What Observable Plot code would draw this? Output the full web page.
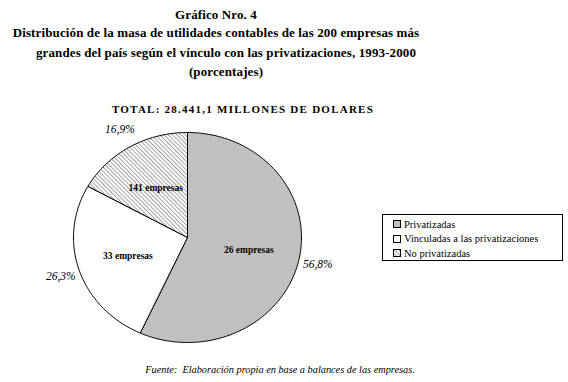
<!DOCTYPE html>
<html><head><meta charset="utf-8">
<script src="https://cdn.jsdelivr.net/npm/d3@7"></script>
<script src="https://cdn.jsdelivr.net/npm/@observablehq/plot@0.6"></script>
<style>
body{margin:0;background:#fff;font-family:"Liberation Serif","DejaVu Serif",serif;color:#000}
#wrap{position:relative;width:568px;height:382px;overflow:hidden;background:#fff}
.t{position:absolute;white-space:nowrap;font-weight:bold;font-size:13px;letter-spacing:0.12px;transform:translateX(-50%);line-height:1}
#total{position:absolute;left:243px;top:104px;transform:translateX(-50%);white-space:nowrap;font-weight:bold;font-size:11px;letter-spacing:1.25px;line-height:1}
#chart{position:absolute;left:0;top:120px}
#legend{position:absolute;left:382px;top:214px;width:181px;height:47px;border:1px solid #000;box-sizing:border-box;font-family:"Liberation Serif",serif;font-size:10.5px;padding:2px 0 0 10px}
#legend .row{height:14.5px;display:flex;align-items:center;white-space:nowrap}
#source{position:absolute;left:280px;top:365px;transform:translateX(-50%);white-space:nowrap;font-style:italic;font-size:10.3px;line-height:1;font-family:"Liberation Serif",serif}
</style></head>
<body><div id="wrap">
<div class="t" style="left:216px;top:8px">Gráfico Nro. 4</div>
<div class="t" style="left:216px;top:26px">Distribución de la masa de utilidades contables de las 200 empresas más</div>
<div class="t" style="left:226px;top:46px">grandes del país según el vínculo con las privatizaciones, 1993-2000</div>
<div class="t" style="left:226px;top:65px">(porcentajes)</div>
<div id="total">TOTAL: 28.441,1 MILLONES DE DOLARES</div>
<div id="chart"></div>
<div id="legend"></div>
<div id="source">Fuente:&nbsp; Elaboración propia en base a balances de las empresas.</div>
</div>
<script>
const categories = ["Privatizadas", "Vinculadas a las privatizaciones", "No privatizadas"];
const shares = [56.8, 26.3, 16.9];
const companies = [26, 33, 141];
const shareLabels = ["56,8%", "26,3%", "16,9%"];
const fills = ["#c0c0c0", "#ffffff", "url(#hatch)"];
const legendFills = ["#c0c0c0", "#ffffff", "url(#hatchL)"];
const serif = "'Liberation Serif', 'Times New Roman', serif";

const total = d3.sum(shares);
let acc = 0;
const wedgePts = [];
const outLabels = [];
const inLabels = [];
categories.forEach((c, i) => {
  const a0 = acc / total * 2 * Math.PI;
  acc += shares[i];
  const a1 = acc / total * 2 * Math.PI;
  wedgePts.push({cat: c, fill: fills[i], x: 0, y: 0});
  const n = Math.max(2, Math.ceil((a1 - a0) / (Math.PI / 180)));
  for (let k = 0; k <= n; k++) {
    const a = a0 + (a1 - a0) * k / n;
    wedgePts.push({cat: c, fill: fills[i], x: Math.sin(a), y: -Math.cos(a)});
  }
  wedgePts.push({cat: c, fill: fills[i], x: 0, y: 0});
  const am = (a0 + a1) / 2;
  outLabels.push({t: shareLabels[i], x: 1.17 * Math.sin(am), y: -1.2 * Math.cos(am)});
  inLabels.push({t: companies[i] + " empresas", x: 0.55 * Math.sin(am), y: -0.55 * Math.cos(am)});
});

const svg = Plot.plot({
  width: 568, height: 240,
  x: {domain: [-1, 1], range: [73, 301], axis: null},
  y: {domain: [-1, 1], range: [12, 222], axis: null},
  color: {type: "identity"},
  style: {background: "transparent", fontFamily: serif},
  marks: [
    Plot.line(wedgePts, {x: "x", y: "y", z: "cat", fill: "fill", stroke: "#000", strokeWidth: 1, curve: "linear"}),
    Plot.text(inLabels, {x: "x", y: "y", text: "t", fontSize: 9.5, fontWeight: "bold", fontFamily: serif, fill: "#000"}),
    Plot.text(outLabels, {x: "x", y: "y", text: "t", fontSize: 11.5, fontStyle: "italic", fontFamily: serif, fill: "#000"})
  ]
});
const defs = d3.select(svg).insert("defs", ":first-child");
const p = defs.append("pattern").attr("id", "hatch").attr("patternUnits", "userSpaceOnUse")
  .attr("width", 3).attr("height", 3).attr("patternTransform", "rotate(-45)");
p.append("rect").attr("width", 3).attr("height", 3).attr("fill", "#fff");
p.append("line").attr("x1", 0.5).attr("y1", 0).attr("x2", 0.5).attr("y2", 3).attr("stroke", "#999").attr("stroke-width", 0.9);
document.getElementById("chart").appendChild(svg);

const legend = d3.select("#legend");
categories.forEach((c, i) => {
  const row = legend.append("div").attr("class", "row");
  const sw = row.append("svg").attr("width", 8).attr("height", 8).style("margin-right", "3px").style("flex", "none");
  if (i === 2) {
    const d = sw.append("defs").append("pattern").attr("id", "hatchL").attr("patternUnits", "userSpaceOnUse")
      .attr("width", 3).attr("height", 3).attr("patternTransform", "rotate(-45)");
    d.append("rect").attr("width", 3).attr("height", 3).attr("fill", "#fff");
    d.append("line").attr("x1", 0.5).attr("y1", 0).attr("x2", 0.5).attr("y2", 3).attr("stroke", "#999");
  }
  sw.append("rect").attr("x", 0.5).attr("y", 0.5).attr("width", 7).attr("height", 7)
    .attr("fill", legendFills[i]).attr("stroke", "#000");
  row.append("span").text(c);
});
</script>
</body></html>
